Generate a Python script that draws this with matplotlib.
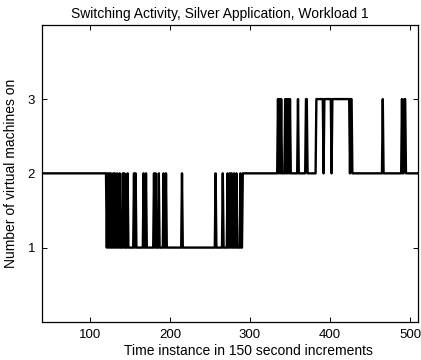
import numpy as np
import matplotlib
matplotlib.use('Agg')
import matplotlib.pyplot as plt

plt.rcParams['font.family'] = ['Liberation Sans', 'DejaVu Sans']

# time instants where the number of machines changes, and the new value
change_t = [40,
            121, 122, 123, 124, 125, 126, 127, 129, 130, 131, 132, 134, 135,
            137, 138, 141, 142, 143, 144, 147, 148, 155, 156, 157, 158,
            167, 168, 170, 171, 180, 181, 182, 183, 186, 187, 192, 193,
            195, 196, 215, 216,
            257, 258, 266, 267, 272, 273, 275, 276, 277, 278, 280, 281,
            283, 284, 288, 289, 291,
            335, 336, 337, 338, 339, 340, 344, 345, 346, 347, 348, 349,
            350, 351, 360, 361, 370, 372, 383, 392, 393, 402, 403, 425,
            426, 428, 466, 467, 490, 491, 493, 495]
change_v = [2,
            1, 2, 1, 2, 1, 2, 1, 2, 1, 2, 1, 2, 1,
            2, 1, 2, 1, 2, 1, 2, 1, 2, 1, 2, 1,
            2, 1, 2, 1, 2, 1, 2, 1, 2, 1, 2, 1,
            2, 1, 2, 1,
            2, 1, 2, 1, 2, 1, 2, 1, 2, 1, 2, 1,
            2, 1, 2, 1, 2,
            3, 2, 3, 2, 3, 2, 3, 2, 3, 2, 3, 2,
            3, 2, 3, 2, 3, 2, 3, 2, 3, 2, 3, 2,
            3, 2, 3, 2, 3, 2, 3, 2]
t_end = 511

x_ticks = [100, 200, 300, 400, 500]
y_ticks = [1, 2, 3]

# expand to one value per time instance
lengths = np.diff(change_t + [t_end + 1])
t = np.arange(change_t[0], t_end + 1)
vms = np.repeat(change_v, lengths)

fig = plt.figure(figsize=(4.21, 3.6), dpi=100)
ax = fig.add_axes([0.0998, 0.106, 0.893, 0.825])
ax.plot(t, vms, color='black', lw=1.7)

ax.set_xlim(40, 510)
ax.set_ylim(0, 4)
ax.set_xticks(x_ticks)
ax.set_yticks(y_ticks)
ax.tick_params(direction='in', top=True, right=True, length=3.5, width=0.7,
               labelsize=9.5, pad=5)
for s in ax.spines.values():
    s.set_linewidth(0.9)

ax.set_title('Switching Activity, Silver Application, Workload 1', fontsize=10,
             pad=5, x=0.473)
ax.set_xlabel('Time instance in 150 second increments', fontsize=10)
ax.xaxis.set_label_coords(0.55, -0.075)
ax.set_ylabel('Number of virtual machines on', fontsize=10, labelpad=7)

plt.savefig('out.png', dpi=100)
